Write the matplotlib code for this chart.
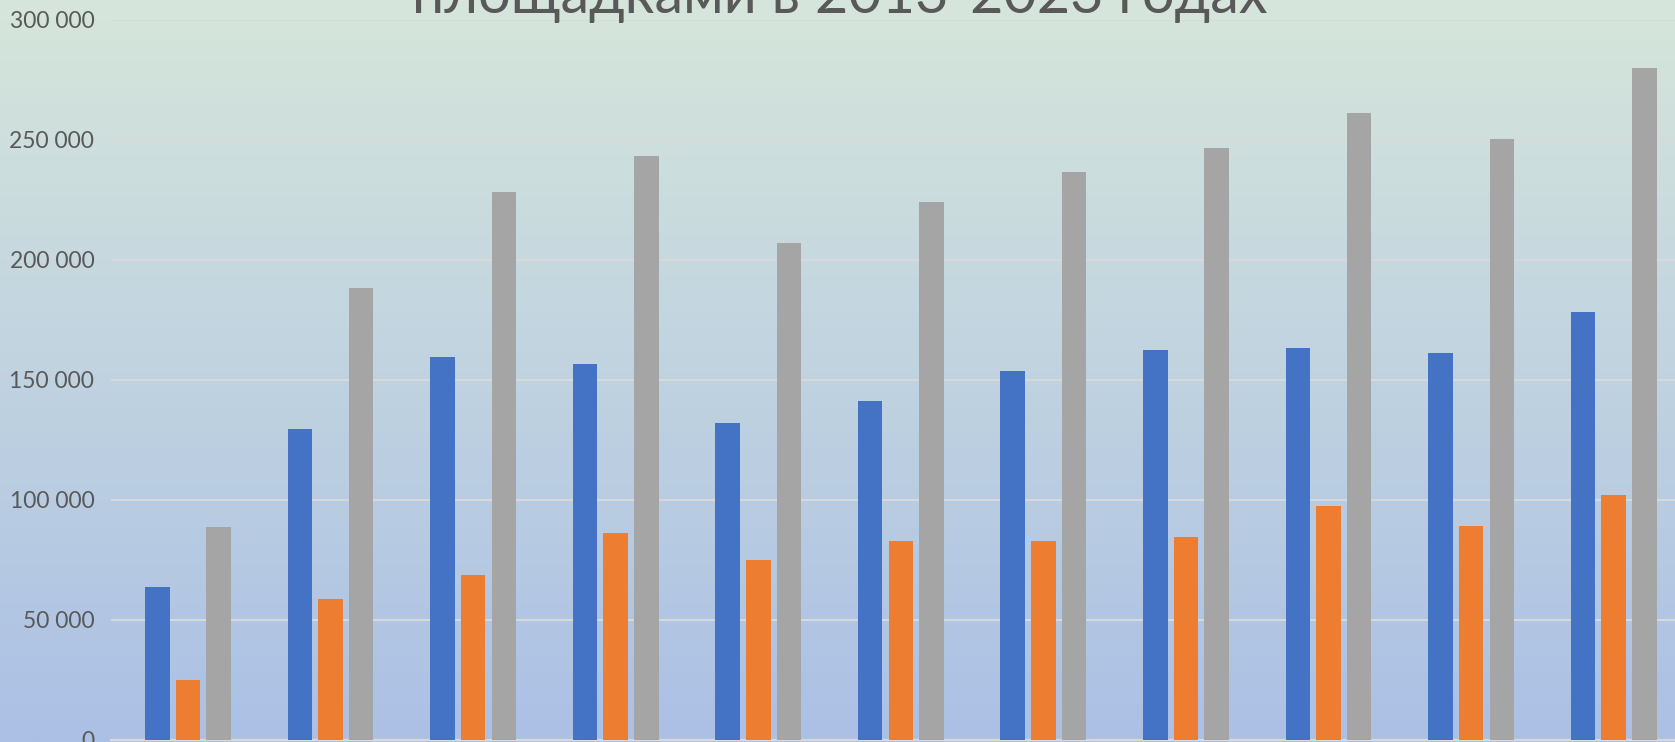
import numpy as np
import matplotlib
matplotlib.use('Agg')
import matplotlib.pyplot as plt
from matplotlib.ticker import FuncFormatter, MultipleLocator

plt.rcParams['font.family'] = ['Lato', 'Open Sans', 'DejaVu Sans']

# data
years = ['2013', '2014', '2015', '2016', '2017', '2018', '2019', '2020', '2021', '2022', '2023']
series_1 = [63600, 129400, 159400, 156500, 131900, 141100, 153700, 162400, 163300, 161000, 178200]
series_2 = [24700, 58500, 68600, 86300, 75000, 82900, 82900, 84400, 97500, 89200, 101800]
total = [88600, 188200, 228400, 243500, 206900, 224200, 236800, 246700, 261100, 250400, 280100]
title_tail = 'площадками в 2013-2023 годах'

W, H = 1675, 742
fig = plt.figure(figsize=(W / 100, H / 100), dpi=100)

# background gradient (top greenish, bottom light blue)
bg = fig.add_axes([0, 0, 1, 1], zorder=0)
top = np.array([214, 230, 219]) / 255
bot = np.array([171, 192, 229]) / 255
t = np.linspace(0, 1, 256)[:, None]
grad = (top * (1 - t) + bot * t)[:, None, :]
bg.imshow(grad, aspect='auto', extent=[0, 1, 0, 1])
bg.axis('off')

left_px, top_px, bottom_px = 111, 20, 739.5
ax = fig.add_axes([left_px / W, (H - bottom_px) / H, (W - left_px) / W, (bottom_px - top_px) / H], zorder=1)
ax.patch.set_alpha(0)

x = np.arange(len(years))
w = 0.172
off = 0.215
ax.bar(x - off, series_1, w, color='#4472C4', zorder=3)
ax.bar(x, series_2, w, color='#ED7D31', zorder=3)
ax.bar(x + off, total, w, color='#A5A5A5', zorder=3)

ax.set_xlim(-0.54, 10.43)
ax.set_ylim(0, 300000)
# year labels fall just below the frame, as in the reference crop
ax.set_xticks(x)
ax.set_xticklabels(years)
ax.yaxis.set_major_locator(MultipleLocator(50000))
ax.yaxis.set_major_formatter(FuncFormatter(lambda v, p: '{:,.0f}'.format(v).replace(',', ' ')))
ax.grid(axis='y', color='#D9D9D9', linewidth=1.4, zorder=0)
for s in ['top', 'right', 'left']:
    ax.spines[s].set_visible(False)
ax.spines['bottom'].set_color('#D9D9D9')
ax.spines['bottom'].set_linewidth(1.6)
ax.tick_params(axis='y', length=0, pad=12, labelsize=16.5, labelcolor='#595959')
ax.tick_params(axis='x', length=0, pad=6, labelsize=16.5, labelcolor='#595959')

fig.text(840 / W, 1 - 13 / H, title_tail, ha='center', va='baseline',
         fontsize=41.5, color='#595959')

fig.savefig('out.png', dpi=100)
